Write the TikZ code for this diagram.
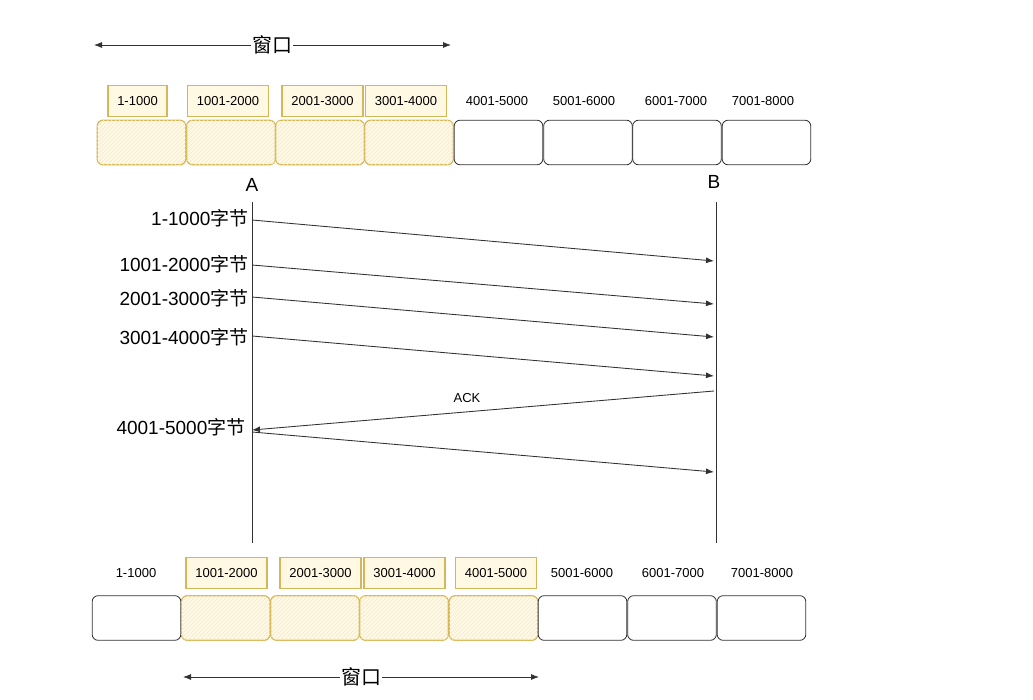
\documentclass[tikz,border=0pt]{standalone}
\usepackage{fontspec}
\setmainfont{Liberation Sans}
\newfontfamily\cjk{Noto Sans CJK SC}
\usetikzlibrary{arrows.meta,patterns}
\definecolor{yfill}{RGB}{255,249,228}
\definecolor{ydraw}{RGB}{214,182,86}
\definecolor{gdraw}{RGB}{50,50,50}
\begin{document}
\begin{tikzpicture}[x=0.75pt,y=-0.75pt,
  cell/.style={draw=gdraw, rounded corners=4.5pt, minimum width=66.5pt, minimum height=33.5pt, inner sep=0pt, line width=0.6pt},
  ycell/.style={cell, draw=ydraw, line width=0.9pt, fill=yfill, postaction={pattern=north east lines, pattern color=ydraw!30}},
  tag/.style={font=\fontsize{9.75}{11}\selectfont, inner sep=0pt},
  ytag/.style={tag, draw=ydraw, fill=yfill, inner xsep=7pt, minimum height=23pt, line width=0.9pt},
  big/.style={font=\fontsize{14.25}{16}\selectfont, inner sep=1pt},
  msg/.style={draw=gdraw, line width=0.65pt, -{Latex[length=6pt,width=4.5pt]}},
  life/.style={draw=gdraw, line width=0.7pt},
  win/.style={draw=gdraw, line width=0.6pt, {Latex[length=6pt,width=4.5pt]}-{Latex[length=6pt,width=4.5pt]}},
  winlabel/.style={font=\fontsize{15}{17}\selectfont\cjk, fill=white, inner sep=1pt}
]
\useasboundingbox (0,0) rectangle (1033,700);

% top window
\coordinate (w1l) at (94,45);
\coordinate (w1r) at (451,45);
\draw[win] (w1l) -- (w1r);
\node[winlabel] (w1) at (272,45) {窗口};

% top tags
\node[ytag] (t1) at (137.5,101) {1-1000};
\node[ytag] (t2) at (228,101) {1001-2000};
\node[ytag] (t3) at (322.5,101) {2001-3000};
\node[ytag] (t4) at (406,101) {3001-4000};
\node[tag] (t5) at (497,101) {4001-5000};
\node[tag] (t6) at (584,101) {5001-6000};
\node[tag] (t7) at (676,101) {6001-7000};
\node[tag] (t8) at (763,101) {7001-8000};

% top cells
\node[ycell] (c1) at (141.5,142.5) {};
\node[ycell] (c2) at (231,142.5) {};
\node[ycell] (c3) at (320,142.5) {};
\node[ycell] (c4) at (409,142.5) {};
\node[cell] (c5) at (498.5,142.5) {};
\node[cell] (c6) at (588,142.5) {};
\node[cell] (c7) at (677,142.5) {};
\node[cell] (c8) at (766.5,142.5) {};

% lifelines
\node[big] (A) at (252,185) {A};
\node[big] (B) at (714,182) {B};
\coordinate (At) at (252,202);
\coordinate (Ab) at (252,543);
\coordinate (Bt) at (716,202);
\coordinate (Bb) at (716,543);
\draw[life] (At) -- (Ab);
\draw[life] (Bt) -- (Bb);

% messages
\coordinate (a1) at (252,220); \coordinate (b1) at (714,261);
\coordinate (a2) at (252,265); \coordinate (b2) at (714,304);
\coordinate (a3) at (252,297); \coordinate (b3) at (714,337);
\coordinate (a4) at (252,336); \coordinate (b4) at (714,376);
\coordinate (b5) at (714,391); \coordinate (a5) at (252,430);
\coordinate (a6) at (252,432); \coordinate (b6) at (714,472);
\draw[msg] (a1) -- (b1);
\draw[msg] (a2) -- (b2);
\draw[msg] (a3) -- (b3);
\draw[msg] (a4) -- (b4);
\draw[msg] (b5) -- (a5);
\draw[msg] (a6) -- (b6);

\node[big, anchor=east] (l1) at (250,218) {1-1000{\cjk 字节}};
\node[big, anchor=east] (l2) at (250,264) {1001-2000{\cjk 字节}};
\node[big, anchor=east] (l3) at (250,298) {2001-3000{\cjk 字节}};
\node[big, anchor=east] (l4) at (250,337) {3001-4000{\cjk 字节}};
\node[big, anchor=east] (l6) at (247,427) {4001-5000{\cjk 字节}};
\node[tag] (ack) at (467,398) {ACK};

% bottom tags
\node[tag] (s1) at (136,573) {1-1000};
\node[ytag] (s2) at (226.5,573) {1001-2000};
\node[ytag] (s3) at (320.5,573) {2001-3000};
\node[ytag] (s4) at (404.5,573) {3001-4000};
\node[ytag] (s5) at (496,573) {4001-5000};
\node[tag] (s6) at (582,573) {5001-6000};
\node[tag] (s7) at (673,573) {6001-7000};
\node[tag] (s8) at (762,573) {7001-8000};

% bottom cells
\node[cell] (d1) at (136.5,618) {};
\node[ycell] (d2) at (225.7,618) {};
\node[ycell] (d3) at (315,618) {};
\node[ycell] (d4) at (404,618) {};
\node[ycell] (d5) at (493.5,618) {};
\node[cell] (d6) at (582.5,618) {};
\node[cell] (d7) at (672,618) {};
\node[cell] (d8) at (761.5,618) {};

% bottom window
\coordinate (w2l) at (183,677);
\coordinate (w2r) at (539,677);
\draw[win] (w2l) -- (w2r);
\node[winlabel] (w2) at (361,677) {窗口};
\end{tikzpicture}
\end{document}
